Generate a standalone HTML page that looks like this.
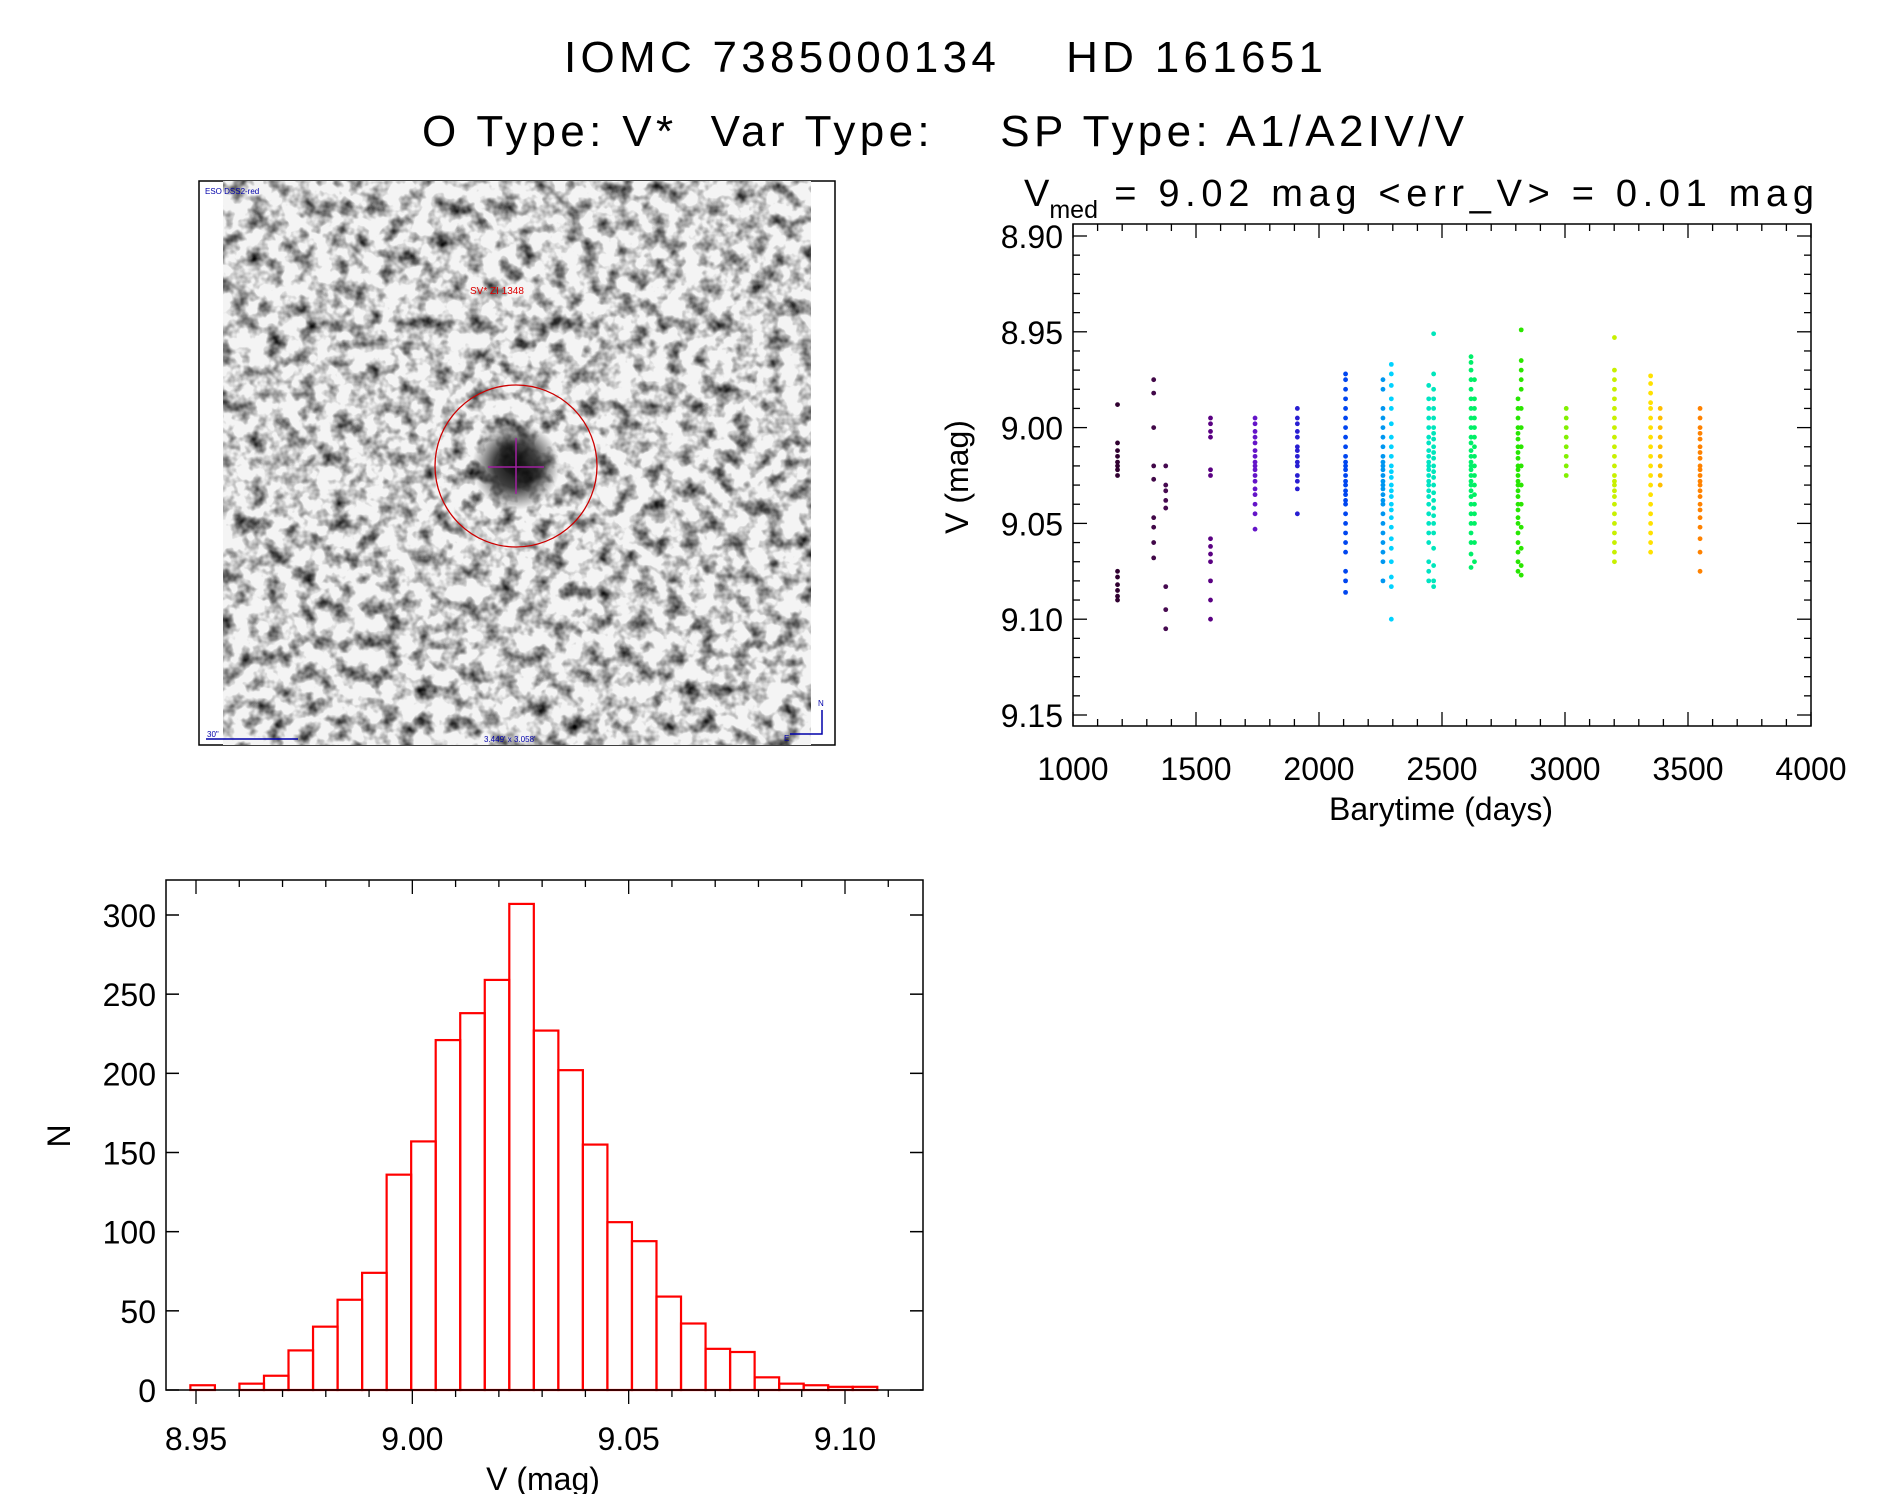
<!DOCTYPE html>
<html><head><meta charset="utf-8">
<style>
html,body{margin:0;padding:0;background:#fff;}
svg{display:block;font-family:"Liberation Sans",sans-serif;}
</style></head>
<body>
<svg id="fig" width="1889" height="1494" viewBox="0 0 1889 1494" xmlns="http://www.w3.org/2000/svg">
<defs>
<filter id="noise" x="0" y="0" width="100%" height="100%">
<feTurbulence type="fractalNoise" baseFrequency="0.06" numOctaves="3" seed="7"/>
<feColorMatrix type="matrix" values="0 0 0 0 0  0 0 0 0 0  0 0 0 0 0  -2.0 0 0 0 1.15"/>
</filter>
<radialGradient id="star"><stop offset="0" stop-color="#000" stop-opacity="0.95"/><stop offset="0.5" stop-color="#111" stop-opacity="0.8"/><stop offset="1" stop-color="#222" stop-opacity="0"/></radialGradient>
<clipPath id="imgclip"><rect x="223" y="181" width="588" height="564"/></clipPath>
</defs>
<text x="564" y="72" font-size="44" textLength="759" lengthAdjust="spacing" xml:space="preserve">IOMC 7385000134    HD 161651</text>
<text x="422" y="146" font-size="44" textLength="1042" lengthAdjust="spacing" xml:space="preserve">O Type: V*  Var Type:    SP Type: A1/A2IV/V</text>
<text x="1024" y="206" font-size="38" xml:space="preserve">V<tspan font-size="25" dy="12">med</tspan><tspan dy="-12" textLength="716" lengthAdjust="spacing"> = 9.02 mag &lt;err_V&gt; = 0.01 mag</tspan></text>

<g>
<rect x="199" y="181" width="636" height="564" fill="#fff" stroke="#000" stroke-width="1.5"/>
<g clip-path="url(#imgclip)">
<rect x="223" y="181" width="588" height="564" fill="#f4f4f4"/>
<rect x="223" y="181" width="588" height="564" filter="url(#noise)"/>
<circle cx="516" cy="466" r="44" fill="url(#star)"/>
</g>
<circle cx="516" cy="466" r="81" fill="none" stroke="#c00" stroke-width="1.3"/>
<line x1="516" y1="438" x2="516" y2="494" stroke="#a020a0" stroke-width="1.5"/>
<line x1="488" y1="467" x2="544" y2="467" stroke="#a020a0" stroke-width="1.5"/>
<text x="470" y="294" font-size="10" fill="#d00">SV* ZI 1348</text>
<text x="205" y="194" font-size="8" fill="#00a">ESO DSS2-red</text>
<text x="484" y="742" font-size="8" fill="#00a">3.449' x 3.058'</text>
<text x="207" y="737" font-size="8" fill="#00a">30"</text>
<line x1="206" y1="739" x2="298" y2="739" stroke="#00a" stroke-width="1.5"/>
<polyline points="790,734 822,734 822,710" fill="none" stroke="#00a" stroke-width="1.5"/>
<text x="818" y="706" font-size="8" fill="#00a">N</text>
<text x="784" y="741" font-size="8" fill="#00a">E</text>
</g>

<g id="scatter"></g>
<g id="hist"></g>
</svg>
<script>
// ---- light curve data ----
const seasonTimes = [1181, 1328, 1377, 1559, 1740, 1912, 2108, 2260, 2294, 2446, 2466, 2618, 2632, 2809, 2822, 3005, 3201, 3348, 3387, 3549];
const seasonMags = [
 [8.988,9.008,9.012,9.015,9.018,9.02,9.022,9.025,9.075,9.078,9.082,9.085,9.088,9.09],
 [8.975,8.982,9.0,9.02,9.027,9.047,9.052,9.06,9.068],
 [9.02,9.03,9.033,9.038,9.042,9.083,9.095,9.105],
 [8.995,8.998,9.002,9.005,9.022,9.025,9.058,9.062,9.066,9.07,9.08,9.09,9.1],
 [8.995,8.998,9.002,9.005,9.008,9.012,9.015,9.018,9.02,9.022,9.025,9.028,9.032,9.035,9.04,9.045,9.053],
 [8.99,8.995,8.998,9.002,9.005,9.01,9.012,9.015,9.018,9.02,9.025,9.028,9.032,9.045],
 [8.972,8.975,8.98,8.985,8.99,8.995,9.0,9.005,9.01,9.015,9.018,9.02,9.022,9.025,9.028,9.03,9.033,9.035,9.038,9.04,9.045,9.05,9.055,9.06,9.065,9.075,9.08,9.086],
 [8.975,8.98,8.99,8.995,9.0,9.005,9.01,9.015,9.018,9.02,9.022,9.025,9.028,9.03,9.032,9.035,9.038,9.04,9.045,9.05,9.055,9.06,9.065,9.07,9.08],
 [8.967,8.972,8.978,8.985,8.99,8.998,9.005,9.01,9.015,9.02,9.023,9.026,9.03,9.033,9.036,9.04,9.043,9.047,9.052,9.058,9.063,9.07,9.078,9.083,9.1],
 [8.978,8.985,8.99,8.995,9.0,9.005,9.008,9.012,9.015,9.018,9.02,9.022,9.025,9.028,9.03,9.033,9.036,9.04,9.045,9.05,9.055,9.06,9.07,9.075,9.08],
 [8.951,8.972,8.98,8.985,8.99,8.995,9.0,9.003,9.006,9.01,9.013,9.016,9.02,9.023,9.026,9.03,9.034,9.038,9.042,9.046,9.05,9.055,9.063,9.072,9.08,9.083],
 [8.963,8.966,8.97,8.975,8.98,8.985,8.99,8.995,9.0,9.005,9.008,9.012,9.015,9.018,9.02,9.022,9.025,9.028,9.03,9.033,9.036,9.04,9.045,9.05,9.055,9.06,9.066,9.073],
 [8.975,8.985,8.99,8.995,9.0,9.005,9.01,9.015,9.02,9.025,9.03,9.035,9.04,9.045,9.05,9.06,9.07],
 [8.985,8.99,8.995,9.0,9.003,9.006,9.01,9.013,9.016,9.02,9.022,9.025,9.028,9.03,9.033,9.036,9.04,9.043,9.047,9.05,9.055,9.06,9.065,9.07,9.075],
 [8.949,8.965,8.97,8.975,8.98,8.99,9.0,9.01,9.02,9.03,9.04,9.052,9.063,9.072,9.077],
 [8.99,8.995,9.0,9.005,9.01,9.015,9.02,9.025],
 [8.953,8.97,8.975,8.98,8.985,8.99,8.995,9.0,9.005,9.01,9.015,9.02,9.025,9.028,9.03,9.033,9.036,9.04,9.045,9.05,9.055,9.06,9.065,9.07],
 [8.973,8.977,8.982,8.987,8.99,8.995,9.0,9.005,9.01,9.015,9.02,9.025,9.03,9.035,9.04,9.045,9.05,9.055,9.06,9.065],
 [8.99,8.995,9.0,9.005,9.01,9.015,9.02,9.025,9.03],
 [8.99,8.995,9.0,9.003,9.006,9.01,9.013,9.016,9.02,9.022,9.025,9.028,9.03,9.033,9.036,9.04,9.043,9.047,9.052,9.058,9.065,9.075]
];
const lcXTicks = [1000,1500,2000,2500,3000,3500,4000];
const lcYTicks = [8.90,8.95,9.00,9.05,9.10,9.15];

// ---- histogram data ----
const histStart = 8.9487;
const histBinWidth = 0.00567;
const histCounts = [3,0,4,9,25,40,57,74,136,157,221,238,259,307,227,202,155,106,94,59,42,26,24,8,4,3,2,2];
const histXTicks = [8.95,9.00,9.05,9.10];
const histYTicks = [0,50,100,150,200,250,300];

const NS='http://www.w3.org/2000/svg';
function mk(parent,tag,attrs,text){const e=document.createElementNS(NS,tag);for(const k in attrs)e.setAttribute(k,attrs[k]);if(text!==undefined)e.textContent=text;parent.appendChild(e);return e;}

// ===== Light curve =====
(function(){
 const g=document.getElementById('scatter');
 const L=1073,R=1811,T=224,B=726;
 const xS=t=>L+(t-1000)/3000*(R-L);
 const yS=v=>236+(v-8.90)/0.25*(715-236);
 const pal=[[1181,[48,0,48]],[1377,[70,10,80]],[1559,[90,0,130]],[1740,[100,20,200]],[1912,[40,30,210]],[2108,[0,70,240]],[2260,[0,150,240]],[2294,[0,210,255]],[2460,[0,230,190]],[2630,[0,240,100]],[2815,[40,230,0]],[3005,[130,240,0]],[3201,[200,240,0]],[3348,[255,225,0]],[3387,[255,190,0]],[3549,[255,130,0]]];
 function col(t){for(let i=0;i<pal.length-1;i++){if(t<=pal[i+1][0]){const f=Math.max(0,(t-pal[i][0])/(pal[i+1][0]-pal[i][0]));const a=pal[i][1],b=pal[i+1][1];return 'rgb('+a.map((c,k)=>Math.round(c+(b[k]-c)*f)).join(',')+')';}}return 'rgb(255,130,0)';}
 const frame=mk(g,'rect',{x:L,y:T,width:R-L,height:B-T,fill:'none',stroke:'#000','stroke-width':1.5});
 
 
 for(let v=1000;v<=4000;v+=100){const x=xS(v);const len=(v%500===0)?14:7;
  mk(g,'line',{x1:x,y1:B,x2:x,y2:B-len,stroke:'#000','stroke-width':1.3});
  mk(g,'line',{x1:x,y1:T,x2:x,y2:T+len,stroke:'#000','stroke-width':1.3});}
 for(let i=0;i<=25;i++){const v=8.90+i*0.01;const y=yS(v);const len=(i%5===0)?14:7;
  mk(g,'line',{x1:L,y1:y,x2:L+len,y2:y,stroke:'#000','stroke-width':1.3});
  mk(g,'line',{x1:R,y1:y,x2:R-len,y2:y,stroke:'#000','stroke-width':1.3});}
 lcXTicks.forEach(v=>{const t=mk(g,'text',{x:xS(v),y:780,'font-size':32,'text-anchor':'middle'},String(v));
  
  });
 lcYTicks.forEach(v=>{const t=mk(g,'text',{x:1063,y:yS(v)+12,'font-size':32,'text-anchor':'end'},v.toFixed(2));
  
  });
 const xt=mk(g,'text',{x:1441,y:820,'font-size':32,'text-anchor':'middle'},'Barytime (days)');
 
 
 const yt=mk(g,'text',{x:0,y:0,'font-size':32,'text-anchor':'middle',transform:'translate(968,477) rotate(-90)'},'V (mag)');
 
 
 seasonTimes.forEach((t,si)=>{const c=col(t);seasonMags[si].forEach(m=>{
  const p=mk(g,'circle',{cx:xS(t),cy:yS(m),r:2.4,fill:c});
  
  });});
})();

// ===== Histogram =====
(function(){
 const g=document.getElementById('hist');
 const L=166,R=923,T=880,B=1390;
 const xS=v=>196+(v-8.95)/0.15*(845-196);
 const yS=n=>1390-n/300*(1390-915);
 histCounts.forEach((n,i)=>{const x0=xS(histStart+i*histBinWidth),x1=xS(histStart+(i+1)*histBinWidth);
  const b=mk(g,'rect',{x:x0,y:yS(n),width:x1-x0,height:B-yS(n),fill:'none',stroke:'#f00','stroke-width':2.2});
  
  });
 const frame=mk(g,'rect',{x:L,y:T,width:R-L,height:B-T,fill:'none',stroke:'#000','stroke-width':1.5});
 
 
 for(let i=-1;i<=17;i++){const v=8.95+i*0.01;const x=xS(v);if(x<L||x>R)continue;const len=(i%5===0)?14:7;
  mk(g,'line',{x1:x,y1:B,x2:x,y2:B+len,stroke:'#000','stroke-width':1.3});
  mk(g,'line',{x1:x,y1:T,x2:x,y2:T+len,stroke:'#000','stroke-width':1.3});}
 histYTicks.forEach(n=>{const y=yS(n);
  mk(g,'line',{x1:L,y1:y,x2:L+13,y2:y,stroke:'#000','stroke-width':1.5});
  mk(g,'line',{x1:R,y1:y,x2:R-13,y2:y,stroke:'#000','stroke-width':1.5});
  const t=mk(g,'text',{x:156,y:y+12,'font-size':32,'text-anchor':'end'},String(n));
  
  });
 histXTicks.forEach(v=>{const t=mk(g,'text',{x:xS(v),y:1450,'font-size':32,'text-anchor':'middle'},v.toFixed(2));
  
  });
 const xt=mk(g,'text',{x:543,y:1490,'font-size':32,'text-anchor':'middle'},'V (mag)');
 
 
 const yt=mk(g,'text',{x:0,y:0,'font-size':32,'text-anchor':'middle',transform:'translate(70,1136) rotate(-90)'},'N');
 
 
})();
</script>
</body></html>
